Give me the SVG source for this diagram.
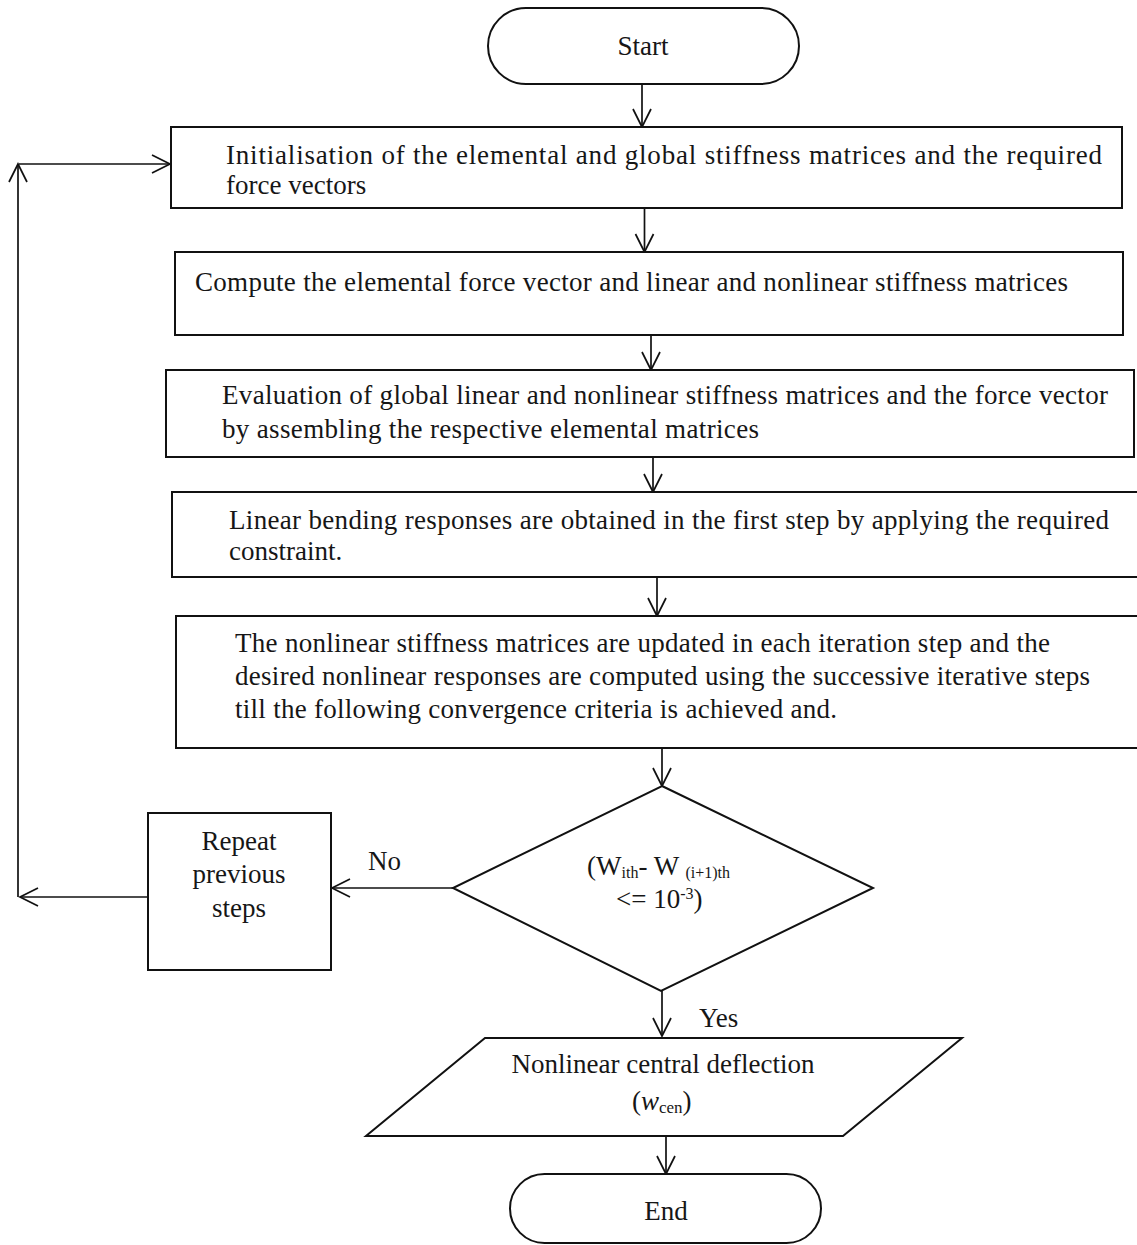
<svg xmlns="http://www.w3.org/2000/svg" width="1137" height="1245" viewBox="0 0 1137 1245">
<style>
  .shape { fill: #fff; stroke: #111; stroke-width: 2; }
  .conn { fill: none; stroke: #111; stroke-width: 1.7; marker-end: url(#arr); }
  text { font-family: "Liberation Serif", "Times New Roman", serif; font-size: 27px; fill: #161616; }
  .c { text-anchor: middle; }
  .sub { font-size: 17px; }
  .sm { font-size: 16px; }
</style>
<defs>
  <marker id="arr" markerUnits="userSpaceOnUse" viewBox="0 0 20 20" refX="18" refY="10" markerWidth="20" markerHeight="20" orient="auto" overflow="visible">
    <path d="M0,1 L18,10 L0,19" fill="none" stroke="#111" stroke-width="1.7"/>
  </marker>
</defs>
<rect width="1137" height="1245" fill="#fff"/>

<g id="connectors">
  <path class="conn" d="M642,84 V127"/>
  <path class="conn" d="M644.5,208 V252"/>
  <path class="conn" d="M651,335 V370"/>
  <path class="conn" d="M653,457 V492"/>
  <path class="conn" d="M657,577 V616"/>
  <path class="conn" d="M662,748 V786"/>
  <path class="conn" d="M662,991 V1036"/>
  <path class="conn" d="M666,1136 V1174"/>
  <path class="conn" d="M453,888 H332"/>
  <path class="conn" d="M148,897 H20"/>
  <path class="conn" d="M18,897 V164"/>
  <path class="conn" d="M19,164 H170"/>
</g>

<g id="start">
  <rect class="shape" x="488" y="8" width="311" height="76" rx="38" ry="38"/>
  <text class="c" x="643" y="55">Start</text>
</g>

<g id="init">
  <rect class="shape" x="171" y="127" width="951" height="81"/>
  <text x="226" y="164" textLength="876" lengthAdjust="spacing">Initialisation of the elemental and global stiffness matrices and the required</text>
  <text x="226" y="194">force vectors</text>
</g>

<g id="compute">
  <rect class="shape" x="175" y="252" width="948" height="83"/>
  <text x="195" y="291" textLength="873" lengthAdjust="spacing">Compute the elemental force vector and linear and nonlinear stiffness matrices</text>
</g>

<g id="evaluate">
  <rect class="shape" x="166" y="370" width="968" height="87"/>
  <text x="222" y="404" textLength="886" lengthAdjust="spacing">Evaluation of global linear and nonlinear stiffness matrices and the force vector</text>
  <text x="222" y="438" textLength="537" lengthAdjust="spacing">by assembling the respective elemental matrices</text>
</g>

<g id="linear">
  <rect class="shape" x="172" y="492" width="980" height="85"/>
  <text x="229" y="529" textLength="880" lengthAdjust="spacing">Linear bending responses are obtained in the first step by applying the required</text>
  <text x="229" y="560">constraint.</text>
</g>

<g id="nonlinear">
  <rect class="shape" x="176" y="616" width="976" height="132"/>
  <text x="235" y="652" textLength="815" lengthAdjust="spacing">The nonlinear stiffness matrices are updated in each iteration step and the</text>
  <text x="235" y="685" textLength="855" lengthAdjust="spacing">desired nonlinear responses are computed using the successive iterative steps</text>
  <text x="235" y="718" textLength="602" lengthAdjust="spacing">till the following convergence criteria is achieved and.</text>
</g>

<g id="decision">
  <polygon class="shape" points="662,786 873,888 661,991 453,888"/>
  <text x="587" y="875">(W<tspan class="sm" dy="3">ith</tspan><tspan dy="-3">- W </tspan><tspan class="sm" dy="3">(i+1)th</tspan></text>
  <text x="616" y="908">&lt;= 10<tspan class="sm" dy="-9">-3</tspan><tspan dy="9">)</tspan></text>
</g>

<g id="no-label">
  <text x="368" y="870">No</text>
</g>

<g id="repeat">
  <rect class="shape" x="148" y="813" width="183" height="157"/>
  <text class="c" x="239" y="850">Repeat</text>
  <text class="c" x="239" y="883">previous</text>
  <text class="c" x="239" y="917">steps</text>
</g>

<g id="yes-label">
  <text x="699" y="1027">Yes</text>
</g>

<g id="output">
  <polygon class="shape" points="485,1038 962,1038 843,1136 366,1136"/>
  <text class="c" x="663" y="1073">Nonlinear central deflection</text>
  <text x="632" y="1110">(<tspan font-style="italic">w</tspan><tspan class="sub" dy="3">cen</tspan><tspan dy="-3">)</tspan></text>
</g>

<g id="end">
  <rect class="shape" x="510" y="1174" width="311" height="69" rx="34.5" ry="34.5"/>
  <text class="c" x="666" y="1220">End</text>
</g>
</svg>
